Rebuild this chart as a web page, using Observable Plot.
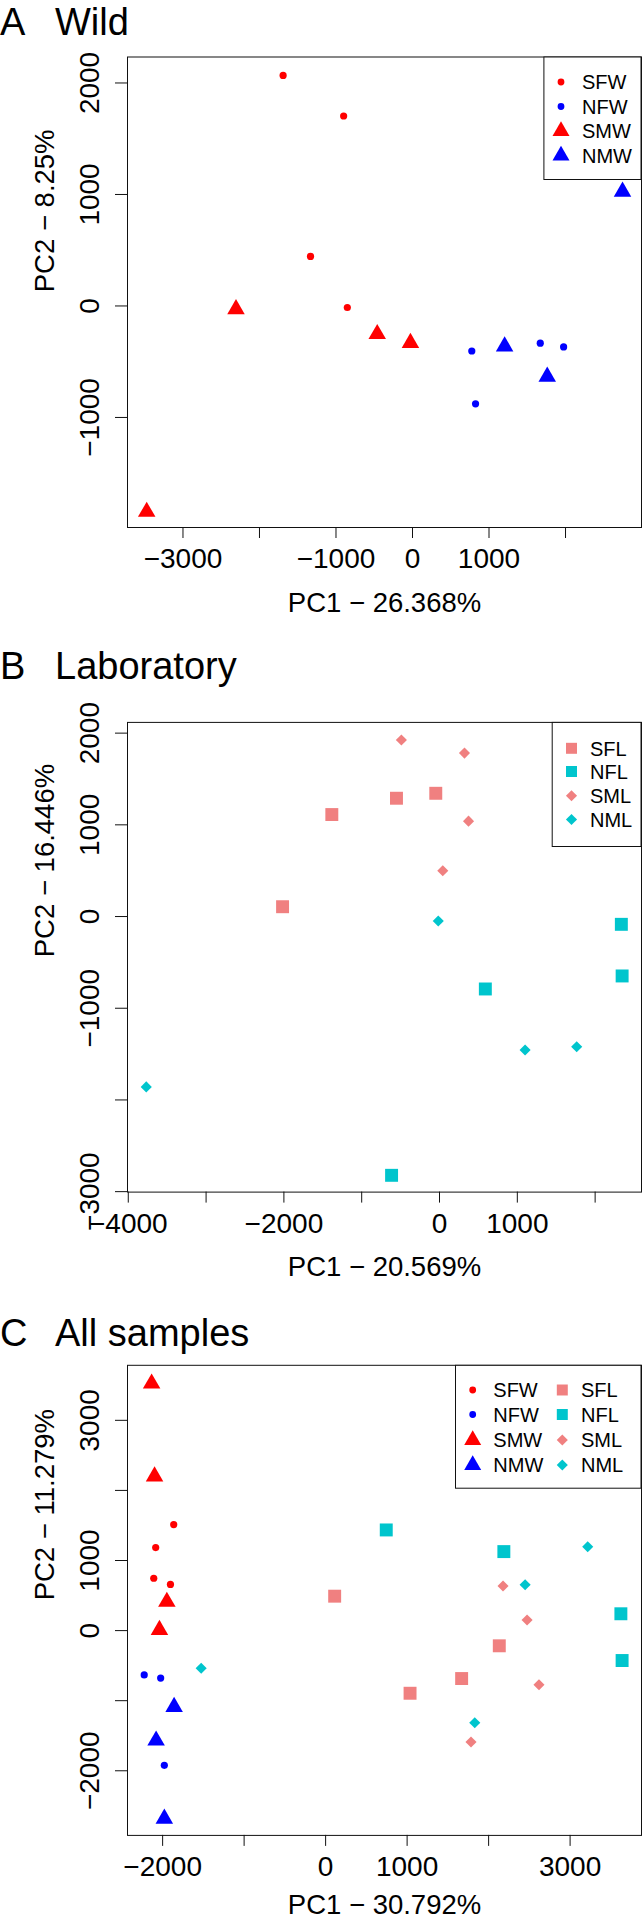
<!DOCTYPE html>
<html><head><meta charset="utf-8">
<script src="https://cdn.jsdelivr.net/npm/d3@7"></script>
<script src="https://cdn.jsdelivr.net/npm/@observablehq/plot@0.6"></script>
<style>
body{margin:0;background:#fff;font-family:"Liberation Sans",Arial,Helvetica,sans-serif;}
#root{position:relative;width:642px;height:1920px;overflow:hidden;background:#fff;}
.panel{position:absolute;left:0;width:642px;height:640px;}
.panel > svg{position:absolute;left:0;top:0;}
</style></head><body><div id="root"></div>
<script>
// ---------- data (PC1, PC2) ----------
const wildSFW = [[-1691,2068],[-900,1704],[-1333,444],[-852,-14]];
const wildNFW = [[775,-404],[824,-878],[1670,-334],[1975,-367]];
const wildSMW = [[-2307,-28],[-461,-252],[-27,-332],[-3474,-1846]];
const wildNMW = [[1204,-362],[1761,-634],[2745,1026]];

const labSFL = [[-2017,107],[-1384,1112],[-553,1290],[-48,1344]];
const labNFL = [[-616,-2822],[589,-790],[2337,-85],[2347,-648]];
const labSML = [[-490,1925],[321,1782],[373,1040],[42,500]];
const labNML = [[-16,-49],[1100,-1456],[1763,-1420],[-3769,-1858]];

const allSFW = [[-1864,1512],[-2085,1185],[-2109,747],[-1904,659]];
const allNFW = [[-2226,-632],[-2024,-678],[-1979,-1922]];
const allSMW = [[-2135,3525],[-2099,2199],[-1948,411],[-2039,9]];
const allNMW = [[-1859,-1089],[-2080,-1569],[-1979,-2684]];
const allSFL = [[111,491],[1036,-894],[1669,-684],[2131,-217]];
const allNFL = [[744,1436],[2187,1127],[3623,240],[3638,-427]];
const allSML = [[2177,636],[2472,151],[2618,-772],[1784,-1589]];
const allNML = [[-1527,-538],[1830,-1315],[2448,653],[3216,1197]];

const groups = ["SFW","NFW","SMW","NMW","SFL","NFL","SML","NML"];
const groupColors = ["#FF0000","#0000FF","#FF0000","#0000FF","#F08080","#00C5CD","#F08080","#00C5CD"];
const groupShapes = ["circle","circle","triangle","triangle","square","square","diamond2","diamond2"];

const titlesLetter = ["A","B","C"];
const titlesText = ["Wild","Laboratory","All samples"];
const xTitles = ["PC1 \u2212 26.368%","PC1 \u2212 20.569%","PC1 \u2212 30.792%"];
const yTitles = ["PC2 \u2212 8.25%","PC2 \u2212 16.446%","PC2 \u2212 11.279%"];

const xTicksA = [-3000,-2000,-1000,0,1000,2000], xLabelsA = [-3000,-1000,0,1000];
const yTicksA = [-1000,0,1000,2000], yLabelsA = [-1000,0,1000,2000];
const xTicksB = [-4000,-3000,-2000,-1000,0,1000,2000], xLabelsB = [-4000,-2000,0,1000];
const yTicksB = [-3000,-2000,-1000,0,1000,2000], yLabelsB = [-3000,-1000,0,1000,2000];
const xTicksC = [-2000,-1000,0,1000,2000,3000], xLabelsC = [-2000,0,1000,3000];
const yTicksC = [-2000,-1000,0,1000,2000,3000], yLabelsC = [-2000,0,1000,3000];

// ---------- styling ----------
const shapeR = {circle:3.6, triangle:6.5, square:7.3, diamond2:5};
const legendR = {circle:3.4, triangle:6.3, square:6.2, diamond2:5};
const d3Sym = {circle:d3.symbolCircle, triangle:d3.symbolTriangle, square:d3.symbolSquare, diamond2:d3.symbolDiamond2};
const colorOf = g => groupColors[groups.indexOf(g)];
const shapeOf = g => groupShapes[groups.indexOf(g)];
const fmt = v => (v < 0 ? "\u2212" : "") + Math.abs(v);

const panels = [
  {top:0, mt:56.5, mb:113, xDom:[-3725,2993], yDom:[-1987,2233], xtDy:75.5,
   series:{SFW:wildSFW, NFW:wildNFW, SMW:wildSMW, NMW:wildNMW},
   xTicks:xTicksA, xLabels:xLabelsA, yTicks:yTicksA, yLabels:yLabelsA, titleY:35,
   legend:{left:543.4, top:56.5, bottom:179, cols:[{sx:561, tx:582, items:["SFW","NFW","SMW","NMW"]}], rows:[82,106.5,131,155.5]}},
  {top:640, mt:81.9, mb:88.4, xDom:[-4010,2596], yDom:[-3005,2117], xtDy:75.5,
   series:{SFL:labSFL, NFL:labNFL, SML:labSML, NML:labNML},
   xTicks:xTicksB, xLabels:xLabelsB, yTicks:yTicksB, yLabels:yLabelsB, titleY:39,
   legend:{left:551.7, top:81.9, bottom:206, cols:[{sx:571.5, tx:590, items:["SFL","NFL","SML","NML"]}], rows:[108.3,131.5,155.7,179.5]}},
  {top:1280, mt:84.8, mb:85.1, xDom:[-2431,3876], yDom:[-2922,3785], xtDy:70,
   series:{SFW:allSFW, NFW:allNFW, SMW:allSMW, NMW:allNMW, SFL:allSFL, NFL:allNFL, SML:allSML, NML:allNML},
   xTicks:xTicksC, xLabels:xLabelsC, yTicks:yTicksC, yLabels:yLabelsC, titleY:65.5,
   legend:{left:455, top:84.8, bottom:207.7, cols:[{sx:472.7, tx:493.3, items:["SFW","NFW","SMW","NMW"]},{sx:562.3, tx:581, items:["SFL","NFL","SML","NML"]}], rows:[110,134.5,160,185]}}
];

const root = document.getElementById("root");
panels.forEach((p, i) => {
  const div = document.createElement("div");
  div.className = "panel";
  div.style.top = p.top + "px";
  root.appendChild(div);

  const rows = [];
  for (const g of Object.keys(p.series)) for (const [x, y] of p.series[g]) rows.push({x, y, g});

  const dotMarks = ["circle","triangle","square","diamond2"].map(shape =>
    Plot.dot(rows.filter(d => shapeOf(d.g) === shape), {x:"x", y:"y", symbol:"g", fill:"g", r:shapeR[shape]}));

  const chart = Plot.plot({
    width:642, height:640,
    marginLeft:127, marginRight:1, marginTop:p.mt, marginBottom:p.mb,
    style:{fontFamily:'"Liberation Sans",Arial,Helvetica,sans-serif', color:"#000", background:"transparent", overflow:"visible"},
    x:{domain:p.xDom},
    y:{domain:p.yDom},
    color:{domain:groups, range:groupColors},
    symbol:{domain:groups, range:groupShapes},
    marks:[
      Plot.frame({stroke:"#111"}),
      Plot.axisX({ticks:p.xTicks, tickSize:11, tickPadding:10, fontSize:28, stroke:"#111",
                  tickFormat:v => p.xLabels.includes(v) ? fmt(v) : "", label:null}),
      Plot.axisY({ticks:p.yTicks, tickSize:12, stroke:"#111", tickFormat:() => "", label:null}),
      Plot.text(p.yLabels, {y:d => d, text:fmt, frameAnchor:"left", dx:-37, rotate:-90,
                            fontSize:28, lineAnchor:"middle", textAnchor:"middle"}),
      Plot.text([xTitles[i]], {text:d => d, frameAnchor:"bottom", dy:p.xtDy, fontSize:27.5, lineAnchor:"middle"}),
      Plot.text([yTitles[i]], {text:d => d, frameAnchor:"left", dx:-82.5, rotate:-90, fontSize:27.5, lineAnchor:"middle"}),
      ...dotMarks
    ]
  });
  div.appendChild(chart);

  // overlay: panel title + legend box
  const ov = d3.select(div).append("svg").attr("width",642).attr("height",640)
    .style("position","absolute").style("left","0px").style("top","0px")
    .style("font-family",'"Liberation Sans",Arial,Helvetica,sans-serif');
  ov.append("text").attr("x",0).attr("y",p.titleY).attr("font-size",38).text(titlesLetter[i]);
  ov.append("text").attr("x",55).attr("y",p.titleY).attr("font-size",38).text(titlesText[i]);

  const L = p.legend;
  ov.append("rect").attr("x",L.left+0.5).attr("y",L.top+0.5)
    .attr("width",641.5-L.left-1).attr("height",L.bottom-L.top)
    .attr("fill","#fff").attr("stroke","#111").attr("stroke-width",1);
  L.cols.forEach(c => c.items.forEach((g, k) => {
    const sh = shapeOf(g), r = legendR[sh];
    ov.append("path").attr("d", d3.symbol(d3Sym[sh], Math.PI*r*r)())
      .attr("transform", `translate(${c.sx},${L.rows[k]})`).attr("fill", colorOf(g));
    ov.append("text").attr("x",c.tx).attr("y",L.rows[k]).attr("dy","0.36em")
      .attr("font-size",20).text(g);
  }));
});
</script></body></html>
